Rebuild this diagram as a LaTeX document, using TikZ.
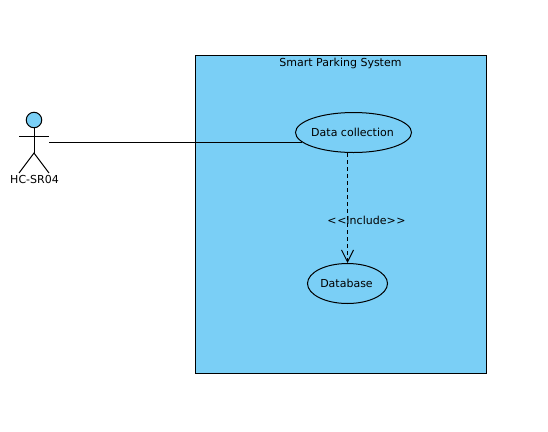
\documentclass[tikz,border=0pt]{standalone}
\usepackage{fontspec}
\setmainfont{DejaVu Sans}
\usetikzlibrary{arrows.meta,positioning,calc,shapes.geometric}
\definecolor{ParkBlue}{HTML}{7ACFF6}
\tikzset{
  usecase/.style={draw=black,line width=1pt,ellipse,inner sep=-3pt,font=\fontsize{11}{13}\selectfont},
  caption/.style={font=\fontsize{11}{13}\selectfont,inner sep=0pt},
  limb/.style={draw=black,line width=1pt},
}
\begin{document}
\begin{tikzpicture}[x=1pt,y=-1pt,>={Straight Barb[length=12pt,width=12pt]}]
  \useasboundingbox (0,0) rectangle (548,431);
  \draw[fill=ParkBlue,line width=1pt] (195.5,55.5) rectangle (486.5,373.5);
  \node[caption] (sysname) at (340.5,63) {Smart Parking System};
  \node[usecase,minimum width=116pt,minimum height=40pt] (collect) at (353.5,132.5) {\raisebox{-.6pt}{Data collection}\kern2pt};
  \node[usecase,minimum width=80pt,minimum height=40pt] (db) at (347.5,283.5) {Database\kern2pt};
  \node[caption] (incl) at (366.5,220.5) {<\kern.6pt<Include>\kern.6pt>};
  % actor
  \node[circle,draw=black,fill=ParkBlue,line width=1pt,minimum size=15.5pt,inner sep=0pt] (head) at (34,120) {};
  \coordinate (neck) at (34,153);
  \coordinate (armL) at (19,136);
  \coordinate (armR) at (49,136);
  \coordinate (footL) at (19,173);
  \coordinate (footR) at (49,173);
  \coordinate (hand) at (collect.191.3 -| armR);
  \draw[limb] (head.south) -- (neck);
  \draw[limb] (armL) -- (armR);
  \draw[limb] (footL) -- (neck) -- (footR);
  \node[caption] (sensor) at (34.5,179.5) {HC-SR04};
  \draw[limb] (hand) -- (collect.191.3);
  \draw[->,dash pattern=on 4pt off 3pt,line width=1pt] (db.north |- collect.south) -- (db.north);
\end{tikzpicture}
\end{document}
